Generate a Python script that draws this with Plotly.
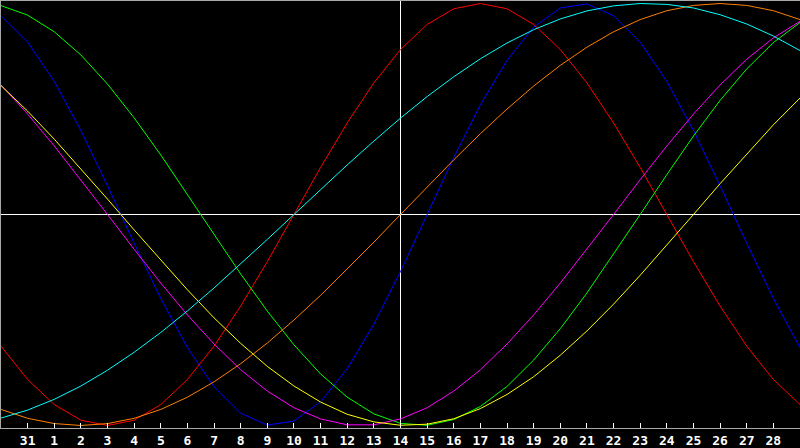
#!/usr/bin/env python3
import plotly.graph_objects as go

# Day labels along the bottom (index 1..29 of the 0..30 window)
day_index = list(range(31))
tick_pos = list(range(1, 30))
tick_labels = ["31"] + [str(d) for d in range(1, 29)]
today_index = 15  # day 14

# Daily cycle values (-1 .. 1)
physical = [0.942, 0.817, 0.631, 0.398, 0.136, -0.136, -0.398, -0.631, -0.817, -0.942,
            -0.998, -0.979, -0.888, -0.731, -0.520, -0.270, 0.0, 0.270, 0.520, 0.731,
            0.888, 0.979, 0.998, 0.942, 0.817, 0.631, 0.398, 0.136, -0.136, -0.398, -0.631]
emotional = [-0.624, -0.782, -0.901, -0.975, -1.0, -0.975, -0.901, -0.782, -0.624, -0.434,
             -0.223, 0.0, 0.223, 0.434, 0.624, 0.782, 0.901, 0.975, 1.0, 0.975,
             0.901, 0.782, 0.624, 0.434, 0.223, 0.0, -0.223, -0.434, -0.624, -0.782, -0.901]
intellectual = [0.990, 0.945, 0.866, 0.756, 0.618, 0.458, 0.282, 0.095, -0.095, -0.282,
                -0.458, -0.618, -0.756, -0.866, -0.945, -0.990, -0.999, -0.972, -0.910, -0.815,
                -0.690, -0.541, -0.372, -0.189, 0.0, 0.189, 0.372, 0.541, 0.690, 0.815, 0.910]
intuitive = [0.614, 0.476, 0.325, 0.165, 0.0, -0.165, -0.325, -0.476, -0.614, -0.736,
             -0.837, -0.916, -0.969, -0.997, -0.997, -0.969, -0.916, -0.837, -0.736, -0.614,
             -0.476, -0.325, -0.165, 0.0, 0.165, 0.325, 0.476, 0.614, 0.736, 0.837, 0.916]
aesthetic = [0.611, 0.490, 0.357, 0.217, 0.073, -0.073, -0.217, -0.357, -0.490, -0.611,
             -0.720, -0.813, -0.889, -0.947, -0.983, -0.999, -0.994, -0.968, -0.920, -0.853,
             -0.769, -0.667, -0.552, -0.425, -0.288, -0.146, 0.0, 0.146, 0.288, 0.425, 0.552]
awareness = [-0.924, -0.966, -0.991, -1.0, -0.991, -0.966, -0.924, -0.866, -0.793, -0.707,
             -0.609, -0.500, -0.383, -0.259, -0.131, 0.0, 0.131, 0.259, 0.383, 0.500,
             0.609, 0.707, 0.793, 0.866, 0.924, 0.966, 0.991, 1.0, 0.991, 0.966, 0.924]
spiritual = [-0.965, -0.927, -0.876, -0.813, -0.738, -0.653, -0.559, -0.457, -0.348, -0.235,
             -0.118, 0.0, 0.118, 0.235, 0.348, 0.457, 0.559, 0.653, 0.738, 0.813,
             0.876, 0.927, 0.965, 0.989, 1.0, 0.996, 0.979, 0.947, 0.903, 0.846, 0.777]

series = [
    ("Physical", physical, "#0000ff"),
    ("Emotional", emotional, "#ff0000"),
    ("Intellectual", intellectual, "#00ff00"),
    ("Intuitive", intuitive, "#ff00ff"),
    ("Aesthetic", aesthetic, "#ffff00"),
    ("Awareness", awareness, "#ff8000"),
    ("Spiritual", spiritual, "#00ffff"),
]

fig = go.Figure()

for name, values, color in series:
    fig.add_trace(go.Scatter(x=day_index, y=values, name=name, mode="lines",
                             line=dict(color=color, width=1)))

# vertical marker for today
fig.add_shape(type="line", x0=today_index, x1=today_index, y0=0, y1=1,
              xref="x", yref="paper", line=dict(color="#ffffff", width=1), layer="below")

fig.update_layout(
    width=800, height=448,
    margin=dict(l=1, r=0, t=1, b=20),
    paper_bgcolor="#000000",
    plot_bgcolor="#000000",
    showlegend=False,
)

fig.update_xaxes(range=[0, 30], showgrid=False, zeroline=False,
                 showline=True, linecolor="#a8a8a8", linewidth=1, mirror=True,
                 tickmode="array", tickvals=tick_pos,
                 ticktext=[f"<b>{t}</b>" for t in tick_labels],
                 ticks="inside", ticklen=5, tickcolor="#ffffff", tickwidth=1,
                 tickfont=dict(family="DejaVu Sans Mono", size=13, color="#ffffff"))

fig.update_yaxes(range=[-1.012, 1.012], showgrid=False, showticklabels=False,
                 zeroline=True, zerolinecolor="#ffffff", zerolinewidth=1,
                 showline=True, linecolor="#a8a8a8", linewidth=1)

# page body margin would shift the chart off the window corner
fig.write_html("out.html", config={"displayModeBar": False},
               post_script="document.body.style.margin='0';")
